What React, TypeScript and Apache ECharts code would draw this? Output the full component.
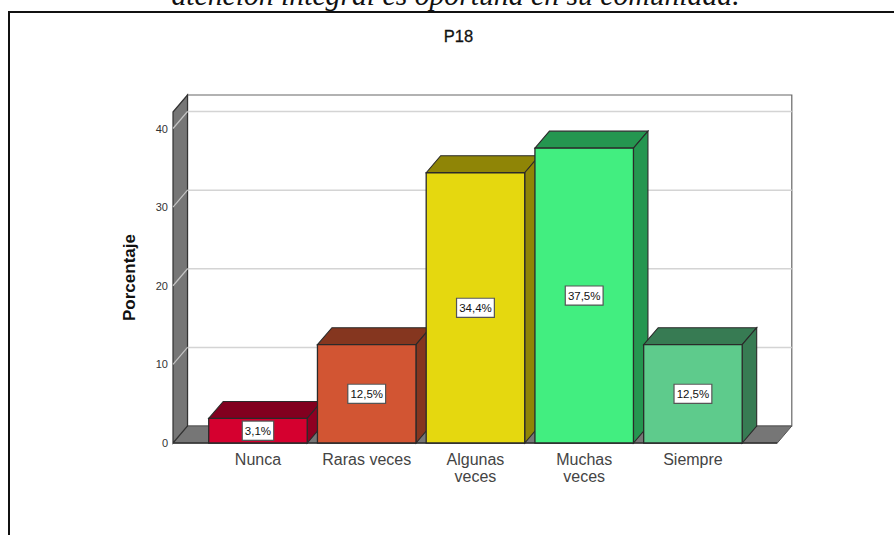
import React, { useEffect, useRef } from "react";
import * as echarts from "echarts";

const categories = ["Nunca", "Raras veces", "Algunas\nveces", "Muchas\nveces", "Siempre"];
const values = [3.125, 12.5, 34.375, 37.5, 12.5];
const valueLabels = ["3,1%", "12,5%", "34,4%", "37,5%", "12,5%"];
const frontColors = ["#d5002f", "#d25533", "#e5d80f", "#42ee80", "#5ecb8c"];
const topColors = ["#82001f", "#85361f", "#8f8506", "#259650", "#377b53"];
const sideColors = ["#8f0022", "#85361f", "#8f8506", "#259650", "#377b53"];
const gridTicks = [10, 20, 30, 40];
const tickLabels = [0, 10, 20, 30, 40];
const title = "P18";
const caption = "atención integral es oportuna en su comunidad.";
const yName = "Porcentaje";

const DX = 14.5;
const DY = -17;
const SIDE_PAD_LEFT = 30.6;
const SIDE_PAD_RIGHT = 30;
const FONT = "'Liberation Sans', Arial, sans-serif";

export default function App() {
  const ref = useRef<HTMLDivElement>(null);
  useEffect(() => {
    const chart = echarts.init(ref.current!, undefined, { renderer: "svg" });

    const renderWalls = (params: any, api: any) => {
      const cs = params.coordSys;
      const l = cs.x - SIDE_PAD_LEFT;
      const r = cs.x + cs.width + SIDE_PAD_RIGHT;
      const t = cs.y;
      const b = cs.y + cs.height;
      const wallGray = "#767676";
      const dark = "#333333";
      const children: any[] = [
        { type: "polygon", shape: { points: [[l + DX, t + DY], [r + DX, t + DY], [r + DX, b + DY], [l + DX, b + DY]] }, style: { fill: "#ffffff", stroke: "#666666", lineWidth: 1.2 } },
        { type: "polygon", shape: { points: [[l, b], [r, b], [r + DX, b + DY], [l + DX, b + DY]] }, style: { fill: wallGray, stroke: "#555555", lineWidth: 1 } },
        { type: "polygon", shape: { points: [[l, t], [l + DX, t + DY], [l + DX, b + DY], [l, b]] }, style: { fill: wallGray, stroke: dark, lineWidth: 1.2 } },
      ];
      gridTicks.forEach((v) => {
        const p = api.coord([0, v]);
        const y = p[1];
        children.push({ type: "line", shape: { x1: l, y1: y, x2: l + DX, y2: y + DY }, style: { stroke: "#c4c4c4", lineWidth: 1.2 } });
        children.push({ type: "line", shape: { x1: l + DX, y1: y + DY, x2: r + DX, y2: y + DY }, style: { stroke: "#d4d4d4", lineWidth: 1.5 } });
      });
      children.push({ type: "line", shape: { x1: l, y1: b, x2: r, y2: b }, style: { stroke: dark, lineWidth: 1.4 } });
      return { type: "group", children };
    };

    const renderBar = (_params: any, api: any) => {
      const i = api.value(0);
      const v = api.value(1);
      const top = api.coord([i, v]);
      const base = api.coord([i, 0]);
      const w = api.size([1, 0])[0] * 0.906;
      const x1 = top[0] - w / 2;
      const x2 = top[0] + w / 2;
      const y1 = top[1];
      const y2 = base[1];
      const edge = "#2a2a2a";
      return {
        type: "group",
        children: [
          { type: "polygon", shape: { points: [[x1, y1], [x1 + DX, y1 + DY], [x2 + DX, y1 + DY], [x2, y1]] }, style: { fill: topColors[i], stroke: edge, lineWidth: 1.1 } },
          { type: "polygon", shape: { points: [[x2, y1], [x2 + DX, y1 + DY], [x2 + DX, y2 + DY], [x2, y2]] }, style: { fill: sideColors[i], stroke: edge, lineWidth: 1.1 } },
          { type: "rect", shape: { x: x1, y: y1, width: w, height: y2 - y1 }, style: { fill: frontColors[i], stroke: edge, lineWidth: 1.3 } },
          {
            type: "text",
            style: {
              x: top[0], y: (y1 + y2) / 2, text: valueLabels[i], align: "center", verticalAlign: "middle",
              fontFamily: FONT, fontSize: 11.5, fill: "#111111",
              backgroundColor: "#ffffff", borderColor: "#555555", borderWidth: 1.2, padding: [3, 2, 3, 2],
            },
          },
        ],
      };
    };

    chart.setOption({
      animation: false,
      backgroundColor: "#ffffff",
      textStyle: { fontFamily: FONT },
      title: {
        text: title, left: 453.5, top: 22, textAlign: "center",
        textStyle: { fontFamily: FONT, fontSize: 16.5, fontWeight: "normal", color: "#111111", textBorderColor: "#111111", textBorderWidth: 0.3 },
      },
      grid: { left: 203.6, width: 543.7, top: 112, height: 331 },
      xAxis: {
        type: "category", data: categories,
        axisLine: { show: false }, axisTick: { show: false },
        axisLabel: { interval: 0, margin: 8, fontFamily: FONT, fontSize: 16, lineHeight: 17, color: "#444444" },
      },
      yAxis: {
        type: "value", min: 0, max: 42.1, interval: 10, offset: SIDE_PAD_LEFT,
        axisLine: { show: false }, axisTick: { show: false }, splitLine: { show: false },
        axisLabel: { customValues: tickLabels, margin: 5, fontFamily: FONT, fontSize: 11, color: "#333333" },
        name: yName, nameLocation: "middle", nameGap: 35, nameRotate: 90,
        nameTextStyle: { fontFamily: FONT, fontSize: 17, fontWeight: "bold", color: "#111111" },
      },
      series: [
        { type: "custom", silent: true, clip: false, z: 1, data: [[0, 0]], renderItem: renderWalls, encode: { x: 0, y: 1 } },
        { type: "custom", silent: true, clip: false, z: 2, data: values.map((v, i) => [i, v]), renderItem: renderBar, encode: { x: 0, y: 1 } },
      ],
      graphic: [
        { type: "rect", silent: true, z: 10, shape: { x: 9, y: 12, width: 900, height: 540 }, style: { fill: "none", stroke: "#111111", lineWidth: 2 } },
        { type: "text", silent: true, z: 10, x: 455.5, y: 10, style: { text: caption, textAlign: "center", textVerticalAlign: "bottom", font: "italic 29.7px 'Liberation Serif', serif", fill: "#111111" } },
      ],
    });
    return () => chart.dispose();
  }, []);
  return <div ref={ref} style={{ position: "absolute", left: 0, top: 0, width: 894, height: 535 }} />;
}
